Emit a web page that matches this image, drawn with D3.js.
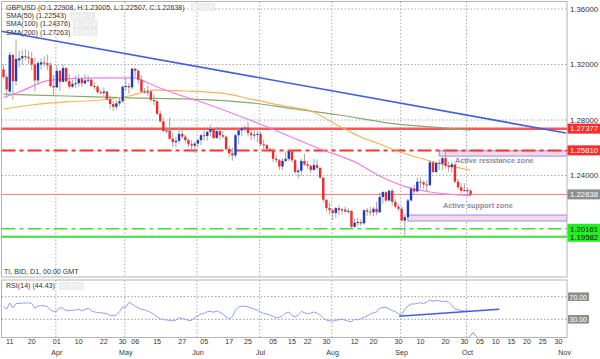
<!DOCTYPE html>
<html><head><meta charset="utf-8">
<script src="https://cdn.jsdelivr.net/npm/d3@7"></script>
<style>body{margin:0;background:#fff}svg{display:block;font-family:"Liberation Sans",Arial,sans-serif}</style>
</head><body><svg id="c" width="600" height="359"></svg>
<script>
// ---------- data ----------
const symbol = "GBPUSD";
const lastOHLC = ["O:1.22908", "H:1.23005", "L:1.22507", "C:1.22638"];
const firstDay = "2019-03-07", lastDay = "2019-10-02";
const open = [1.3165,1.3110,1.3005,1.3270,1.3080,1.3230,1.3245,1.3260,1.3255,1.3245,1.3200,1.3085,1.3200,1.3215,1.3210,1.3195,1.3045,
1.3035,1.3155,1.3075,1.3175,1.3080,1.3040,1.3060,1.3065,1.3095,1.3065,1.3085,1.3090,1.3045,1.3040,1.3000,1.2995,1.3005,1.2950,1.2915,1.2895,1.2920,1.2935,
1.3040,1.3045,1.3035,1.3170,1.3155,1.3090,1.3005,1.3000,1.3005,1.2945,1.2935,1.2845,1.2790,1.2720,1.2725,1.2665,1.2640,1.2650,1.2700,1.2680,1.2655,1.2625,1.2615,
1.2630,1.2655,1.2690,1.2685,1.2715,1.2735,1.2670,1.2720,1.2690,1.2680,1.2590,1.2560,1.2545,1.2690,1.2725,1.2740,1.2745,1.2705,1.2690,1.2695,
1.2700,1.2625,1.2620,1.2590,1.2580,1.2520,1.2510,1.2465,1.2505,1.2520,1.2575,1.2510,1.2425,1.2435,1.2505,1.2480,1.2470,1.2440,1.2475,1.2455,1.2385,1.2225,1.2165,
1.2150,1.2130,1.2165,1.2150,1.2155,1.2140,1.2145,1.2030,1.2060,1.2065,1.2055,1.2150,1.2140,1.2135,1.2160,1.2135,1.2245,1.2280,1.2220,1.2290,1.2210,1.2175,
1.2160,1.2075,1.2100,1.2220,1.2305,1.2285,1.2355,1.2350,1.2335,1.2330,1.2495,1.2425,1.2490,1.2485,1.2525,1.2470,1.2460,1.2480,1.2355,1.2315,1.2290,
1.2295,1.22908];
const high = [1.3200,1.3125,1.3290,1.3275,1.3380,1.3300,1.3305,1.3310,1.3300,1.3290,1.3250,1.3225,1.3245,1.3260,1.3270,1.3215,1.3125,
1.3195,1.3160,1.3200,1.3180,1.3130,1.3090,1.3120,1.3130,1.3110,1.3130,1.3120,1.3100,1.3070,1.3050,1.3020,1.3035,1.3010,1.2975,1.2940,1.2945,1.2960,1.3050,
1.3105,1.3065,1.3176,1.3175,1.3165,1.3120,1.3030,1.3050,1.3010,1.2985,1.2940,1.2865,1.2815,1.2750,1.2815,1.2710,1.2680,1.2750,1.2730,1.2695,1.2665,1.2655,1.2645,
1.2665,1.2700,1.2735,1.2720,1.2765,1.2740,1.2750,1.2740,1.2720,1.2690,1.2615,1.2600,1.2700,1.2730,1.2755,1.2760,1.2784,1.2725,1.2725,1.2720,
1.2715,1.2660,1.2625,1.2605,1.2600,1.2545,1.2520,1.2525,1.2575,1.2580,1.2580,1.2520,1.2450,1.2520,1.2555,1.2505,1.2480,1.2520,1.2515,1.2460,1.2385,1.2230,1.2205,
1.2160,1.2175,1.2185,1.2170,1.2175,1.2165,1.2150,1.2090,1.2095,1.2085,1.2155,1.2165,1.2175,1.2175,1.2210,1.2275,1.2290,1.2285,1.2300,1.2305,1.2230,1.2195,
1.2175,1.2125,1.2235,1.2320,1.2335,1.2385,1.2385,1.2365,1.2365,1.2510,1.2500,1.2500,1.2515,1.2535,1.2582,1.2500,1.2500,1.2485,1.2375,1.2345,1.2345,
1.2310,1.23005];
const low = [1.3100,1.2960,1.2995,1.2945,1.3050,1.3180,1.3200,1.3230,1.3205,1.3160,1.3005,1.3055,1.3165,1.3185,1.3160,1.3035,1.2977,
1.3030,1.3010,1.3070,1.3070,1.3025,1.3030,1.3030,1.3040,1.3040,1.3055,1.3070,1.3040,1.3020,1.2990,1.2985,1.2975,1.2940,1.2880,1.2866,1.2875,1.2900,1.2925,
1.3010,1.2990,1.3020,1.3110,1.3060,1.2995,1.2990,1.2975,1.2930,1.2905,1.2835,1.2780,1.2715,1.2705,1.2655,1.2605,1.2605,1.2630,1.2665,1.2635,1.2605,1.2580,1.2560,
1.2600,1.2620,1.2650,1.2650,1.2680,1.2665,1.2665,1.2660,1.2665,1.2580,1.2535,1.2506,1.2530,1.2630,1.2685,1.2715,1.2680,1.2655,1.2660,1.2640,
1.2615,1.2580,1.2580,1.2565,1.2495,1.2490,1.2440,1.2440,1.2495,1.2505,1.2495,1.2410,1.2380,1.2400,1.2470,1.2445,1.2420,1.2435,1.2440,1.2375,1.2205,1.2140,1.2120,
1.2080,1.2095,1.2115,1.2120,1.2130,1.2125,1.2015,1.2025,1.2035,1.2035,1.2045,1.2110,1.2110,1.2105,1.2115,1.2130,1.2195,1.2210,1.2215,1.2185,1.2165,1.2145,
1.2070,1.1958,1.2085,1.2215,1.2260,1.2275,1.2305,1.2305,1.2290,1.2325,1.2415,1.2420,1.2440,1.2440,1.2450,1.2425,1.2420,1.2345,1.2300,1.2275,1.2285,
1.2265,1.22507];
const close = [1.3110,1.3020,1.3270,1.3080,1.3240,1.3245,1.3260,1.3255,1.3245,1.3200,1.3085,1.3210,1.3215,1.3210,1.3195,1.3045,1.3035,
1.3155,1.3075,1.3175,1.3080,1.3040,1.3060,1.3065,1.3095,1.3065,1.3085,1.3090,1.3045,1.3040,1.3000,1.2995,1.3005,1.2950,1.2915,1.2895,1.2920,1.2935,1.3040,
1.3045,1.3035,1.3170,1.3155,1.3090,1.3005,1.3000,1.3005,1.2945,1.2935,1.2845,1.2790,1.2720,1.2725,1.2665,1.2640,1.2650,1.2700,1.2680,1.2655,1.2625,1.2615,1.2630,
1.2655,1.2690,1.2685,1.2715,1.2735,1.2670,1.2720,1.2690,1.2680,1.2590,1.2560,1.2545,1.2690,1.2725,1.2740,1.2745,1.2705,1.2690,1.2695,1.2700,
1.2625,1.2620,1.2590,1.2580,1.2520,1.2510,1.2465,1.2505,1.2520,1.2575,1.2510,1.2425,1.2435,1.2505,1.2480,1.2470,1.2440,1.2475,1.2455,1.2385,1.2225,1.2165,1.2150,
1.2130,1.2165,1.2150,1.2155,1.2140,1.2145,1.2030,1.2060,1.2065,1.2055,1.2150,1.2140,1.2135,1.2160,1.2135,1.2245,1.2280,1.2220,1.2290,1.2210,1.2175,1.2160,
1.2075,1.2100,1.2220,1.2305,1.2285,1.2355,1.2350,1.2335,1.2330,1.2495,1.2425,1.2490,1.2485,1.2525,1.2470,1.2460,1.2480,1.2355,1.2315,1.2290,1.2295,
1.22908,1.22638];
const rsi = [52,48,59,50,58,58,58.5,59,59,58,49.5,53.5,54,54,52.5,46,44,44,51,49,45,45.5,46,46.5,48,45,47.5,49.5,45,43,
42,41.5,41,40,36.5,36.5,37.5,43.5,52,51,60,57,53,50,47.5,47,44.5,42,38.5,34.5,31,29.5,28.8,28,27,28.8,32.5,31.5,30,28,
28,33,36.5,39.5,40.5,43.5,44,42.5,44.5,42.5,39,34.5,30,34.5,46,51.5,53,53.2,51.8,50,47.8,46.2,43,40.3,39.5,37.5,35.3,32.5,33.5,36.3,
41,42.5,37.5,34,38,44,41.5,40,41,43,41,37.5,32.5,28.5,27.3,27,28.3,29.2,30,28.5,26.5,25.5,29.8,29,30.5,33.6,36.2,39.2,41.5,43,
50,50.5,51.5,48.5,45.5,43.5,39.5,37.8,47.5,53.5,57.1,57.1,58,59.4,58,60.5,64.5,62,63.5,63,61.5,62,60.5,55,48.5,47,45.5,44.8,44.6,44.43];
// moving averages: [candle index, value]
const sma50 = [[0,1.2962],[5,1.3002],[15,1.3088],[31,1.3103],[41,1.3103],[49,1.3038],[56,1.2980],[63,1.2930],[81,1.2778],[101,1.2591],[113,1.2487],[120,1.2396],[129,1.2314],[136,1.2281],[149,1.22543]];
const sma100 = [[0,1.2879],[9,1.2908],[20,1.2930],[31,1.2944],[40,1.2973],[48,1.3016],[58,1.3009],[69,1.2995],[79,1.2951],[91,1.2894],[98,1.2865],[107,1.2757],[114,1.2677],[120,1.2627],[126,1.2573],[135,1.2512],[141,1.2476],[149,1.24376]];
const sma200 = [[0,1.2987],[20,1.2973],[40,1.2959],[60,1.2951],[79,1.2923],[91,1.2886],[107,1.2836],[123,1.2778],[136,1.2750],[149,1.27263]];
const legendSMA = ["SMA(50) (1.22543)", "SMA(100) (1.24376)", "SMA(200) (1.27263)"];
const priceTicks = [1.36, 1.32, 1.28, 1.24];
const resistance = 1.27377, resistance2 = 1.25810, lastPrice = 1.22638, support1 = 1.20161, support2 = 1.19582;
const resZone = [1.2578, 1.2540], resZoneStart = "2019-09-18";
const supZone = [1.2115, 1.2072], supZoneStart = "2019-09-04";
const trendIdx = [-1.12, 179.4], trendPrice = [1.34414, 1.27063];
const rsiTrendIdx = [126.2, 158.1], rsiTrendVal = [35.3, 47.7];
const rsiLevels = [70, 30];
const dayTicks = [["2019-03-11","11"],["2019-03-20","20"],["2019-04-01","01"],["2019-04-10","10"],["2019-04-22","22"],["2019-04-30","30"],["2019-05-06","06"],["2019-05-15","15"],["2019-05-27","27"],["2019-06-05","05"],["2019-06-17","17"],["2019-06-25","25"],["2019-07-05","05"],["2019-07-15","15"],["2019-07-22","22"],["2019-07-30","30"],["2019-08-12","12"],["2019-08-20","20"],["2019-08-30","30"],["2019-09-10","10"],["2019-09-20","20"],["2019-09-30","30"],["2019-10-05","05"],["2019-10-10","10"],["2019-10-15","15"],["2019-10-20","20"],["2019-10-25","25"],["2019-10-30","30"]];
const monthTicks = [["2019-04-01","Apr"],["2019-05-01","May"],["2019-06-03","Jun"],["2019-07-01","Jul"],["2019-08-01","Aug"],["2019-09-02","Sep"],["2019-10-01","Oct"],["2019-11-01","Nov"]];

// ---------- helpers ----------
const days = [];
for (let d = new Date(firstDay + "T00:00:00Z"); d <= new Date(lastDay + "T00:00:00Z"); d.setUTCDate(d.getUTCDate() + 1)) {
  const w = d.getUTCDay(); if (w !== 0 && w !== 6) days.push(d.toISOString().slice(0, 10));
}
function idxOf(s) {
  const k = days.indexOf(s); if (k >= 0) return k;
  const t = new Date(s + "T00:00:00Z"), last = new Date(lastDay + "T00:00:00Z");
  return days.length - 1 + Math.round((t - last) / 864e5);
}

const svg = d3.select("#c");
const P = {l: 1.5, r: 567, t: 1.5, b: 277};
const R = {t: 280, b: 337.5};
const x = d3.scaleLinear().domain([0, 149]).range([3.5, 3.5 + 149 * 3.135]);
const y = d3.scaleLinear().domain([1.20, 1.36]).range([231, 9]);
const yr = d3.scaleLinear().domain([30, 70]).range([319.3, 296.7]);

const defs = svg.append("defs");
defs.append("clipPath").attr("id", "cm").append("rect").attr("x", P.l).attr("y", P.t).attr("width", P.r - P.l).attr("height", P.b - P.t);
defs.append("clipPath").attr("id", "cr").append("rect").attr("x", P.l).attr("y", R.t).attr("width", P.r - P.l).attr("height", R.b - R.t);

// frames
svg.append("rect").attr("x", P.l).attr("y", P.t).attr("width", P.r - P.l).attr("height", P.b - P.t).attr("fill", "#fff").attr("stroke", "#b4b4b4");
svg.append("rect").attr("x", P.l).attr("y", R.t).attr("width", P.r - P.l).attr("height", R.b - R.t).attr("fill", "#fff").attr("stroke", "#b4b4b4");

// grids
const gm = svg.append("g").attr("clip-path", "url(#cm)");
const gr = svg.append("g").attr("clip-path", "url(#cr)");
const dot = "1.5,2";
priceTicks.forEach(p => gm.append("line").attr("x1", P.l).attr("x2", P.r).attr("y1", y(p)).attr("y2", y(p)).attr("stroke", "#aaa").attr("stroke-dasharray", dot));
rsiLevels.forEach(v => gr.append("line").attr("x1", P.l).attr("x2", P.r).attr("y1", yr(v)).attr("y2", yr(v)).attr("stroke", "#999").attr("stroke-dasharray", dot));
monthTicks.slice(0, 7).forEach(([d]) => {
  const xx = x(idxOf(d) - 0.3);
  gm.append("line").attr("x1", xx).attr("x2", xx).attr("y1", P.t).attr("y2", P.b).attr("stroke", "#aaa").attr("stroke-dasharray", dot);
  gr.append("line").attr("x1", xx).attr("x2", xx).attr("y1", R.t).attr("y2", R.b).attr("stroke", "#aaa").attr("stroke-dasharray", dot);
});

// zones
[[resZone, resZoneStart], [supZone, supZoneStart]].forEach(([z, s]) => {
  gm.append("rect").attr("x", x(idxOf(s))).attr("y", y(z[0])).attr("width", P.r - x(idxOf(s))).attr("height", y(z[1]) - y(z[0]))
    .attr("fill", "#f7d9e4").attr("stroke", "#8f8ff0").attr("stroke-width", 1);
});

// horizontal levels
const hl = (p, col, w, dash) => gm.append("line").attr("x1", P.l).attr("x2", P.r).attr("y1", y(p)).attr("y2", y(p))
  .attr("stroke", col).attr("stroke-width", w).attr("stroke-dasharray", dash || null);
hl(resistance, "#ff5555", 2.5);
hl(resistance2, "#ff3030", 2, "14,4,4,4");
hl(lastPrice, "#f27a7a", 1);
hl(support1, "#3ede3e", 1.6, "14,4,4,4");
hl(support2, "#3ede3e", 2);

// moving averages
const ln = d3.line().x(d => x(d[0])).y(d => y(d[1])).curve(d3.curveMonotoneX);
gm.append("path").attr("d", ln(sma200)).attr("fill", "none").attr("stroke", "#88a86c").attr("stroke-width", 1.2);
gm.append("path").attr("d", ln(sma100)).attr("fill", "none").attr("stroke", "#f7b25a").attr("stroke-width", 1.2);
gm.append("path").attr("d", ln(sma50)).attr("fill", "none").attr("stroke", "#f57af0").attr("stroke-width", 1.2);

// candles
const cg = gm.append("g");
close.forEach((c, i) => {
  const o = open[i], up = c >= o, xx = x(i);
  cg.append("line").attr("x1", xx).attr("x2", xx).attr("y1", y(high[i])).attr("y2", y(low[i])).attr("stroke", "#a6a6a6").attr("stroke-width", 1);
  const top = y(Math.max(o, c)), bot = y(Math.min(o, c));
  cg.append("rect").attr("x", xx - 1.2).attr("y", top).attr("width", 2.4).attr("height", Math.max(1, bot - top))
    .attr("fill", up ? "#1f3bc6" : "#f42a2a");
});

// trend line
gm.append("line").attr("x1", x(trendIdx[0])).attr("y1", y(trendPrice[0])).attr("x2", x(trendIdx[1])).attr("y2", y(trendPrice[1]))
  .attr("stroke", "#3f5fe0").attr("stroke-width", 1.6);

// zone texts
gm.append("text").attr("x", 455).attr("y", y(1.2505)).attr("font-size", 7.3).attr("font-weight", "bold").attr("fill", "#8c8c9c").attr("dominant-baseline", "central").text("Active resistance  zone");
gm.append("text").attr("x", 443).attr("y", y(1.2187)).attr("font-size", 7.3).attr("font-weight", "bold").attr("fill", "#8c8c9c").attr("dominant-baseline", "central").text("Active support zone");

// RSI
gr.append("path").attr("d", d3.line().x((d, i) => x(i)).y(d => yr(d))(rsi)).attr("fill", "none").attr("stroke", "#8aa2f5").attr("stroke-width", 1);
gr.append("line").attr("x1", x(rsiTrendIdx[0])).attr("y1", yr(rsiTrendVal[0])).attr("x2", x(rsiTrendIdx[1])).attr("y2", yr(rsiTrendVal[1]))
  .attr("stroke", "#3f5fe0").attr("stroke-width", 1.5);
// scroll marker
const mx = x(149) + 2.5;
svg.append("path").attr("d", `M${mx - 4},${R.b} L${mx},${R.b - 5} L${mx + 4},${R.b}`).attr("fill", "#fff").attr("stroke", "#999");

// legends
const tc = "#333";
svg.append("text").attr("x", 6).attr("y", 10).attr("font-size", 7.1).attr("fill", tc).text(`${symbol} (${lastOHLC.join(", ")})`);
legendSMA.forEach((t, k) => svg.append("text").attr("x", 6).attr("y", 18.3 + k * 8.1).attr("font-size", 7.1).attr("fill", tc).text(t));
svg.append("text").attr("x", 4).attr("y", 274).attr("font-size", 7.1).attr("fill", tc).text("TI, BID, D1, 00:00 GMT");
svg.append("text").attr("x", 6).attr("y", 288).attr("font-size", 7.1).attr("fill", tc).text(`RSI(14) (${rsi[rsi.length - 1].toFixed(2)})`);
function icons(x0, y0) {
  for (let k = 0; k < 3; k++) {
    const bx = x0 + k * 8.3;
    svg.append("rect").attr("x", bx).attr("y", y0).attr("width", 7).attr("height", 7).attr("fill", "#ececec").attr("stroke", "#e2e2e2").attr("stroke-width", 0.5);
    if (k < 2) svg.append("circle").attr("cx", bx + 3.5).attr("cy", y0 + 3.5).attr("r", 1.8).attr("fill", "none").attr("stroke", "#fff").attr("stroke-width", 0.8);
    else svg.append("path").attr("d", `M${bx + 1.8},${y0 + 1.8}L${bx + 5.2},${y0 + 5.2}M${bx + 5.2},${y0 + 1.8}L${bx + 1.8},${y0 + 5.2}`).attr("stroke", "#fff").attr("stroke-width", 0.8);
  }
}
icons(191, 3.5); icons(71, 12.5); icons(73.5, 20.8); icons(73.5, 28.4); icons(59.5, 282.3);

// right price axis
priceTicks.forEach(p => svg.append("text").attr("x", 570).attr("y", y(p)).attr("dominant-baseline", "central").attr("font-size", 7.8).attr("fill", tc).text(p.toFixed(5)));
function tag(p, fill, txt) {
  svg.append("rect").attr("x", 567.5).attr("y", y(p) - 5).attr("width", 33).attr("height", 10).attr("fill", fill);
  svg.append("text").attr("x", 570).attr("y", y(p) + 0.3).attr("dominant-baseline", "central").attr("font-size", 7.8).attr("fill", txt).text(p.toFixed(5));
}
tag(resistance, "#ff2a2a", "#fff");
tag(resistance2, "#ff2a2a", "#fff");
tag(lastPrice, "#8e8e8e", "#fff");
tag(support1, "#22ee22", "#111");
tag(support2, "#22ee22", "#111");
rsiLevels.forEach(v => {
  svg.append("rect").attr("x", 568).attr("y", yr(v) - 4.3).attr("width", 21).attr("height", 8.6).attr("fill", "#8e8e8e");
  svg.append("text").attr("x", 569.5).attr("y", yr(v) + 0.3).attr("dominant-baseline", "central").attr("font-size", 7).attr("fill", "#fff").text(v.toFixed(2));
});

// x axis
dayTicks.forEach(([d, t]) => svg.append("text").attr("x", x(idxOf(d))).attr("y", 341.5).attr("text-anchor", "middle").attr("dominant-baseline", "central").attr("font-size", 7.1).attr("fill", tc).text(t));
monthTicks.forEach(([d, t]) => svg.append("text").attr("x", x(idxOf(d))).attr("y", 352.5).attr("text-anchor", "middle").attr("dominant-baseline", "central").attr("font-size", 7.1).attr("fill", tc).text(t));
</script></body></html>
